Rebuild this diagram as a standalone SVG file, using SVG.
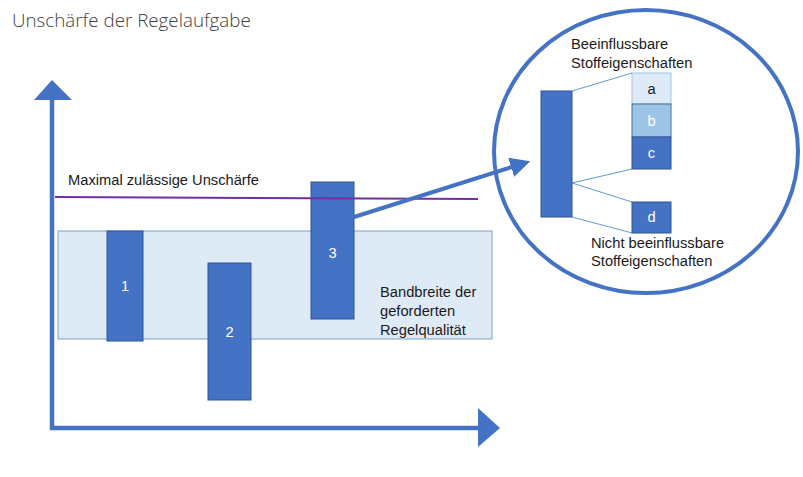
<svg xmlns="http://www.w3.org/2000/svg" width="803" height="477" viewBox="0 0 803 477">
<defs>
<style>
.t{font-family:"Liberation Sans",Arial,sans-serif;font-size:14.7px;fill:#1a1a1a}
.w{font-family:"Liberation Sans",Arial,sans-serif;font-size:14.7px;fill:#ffffff;text-anchor:middle}
.bar{fill:#4472C4;stroke:#2F5597;stroke-width:1}
.thin{stroke:#5B9BD5;stroke-width:1;fill:none}
</style>
<marker id="ah" markerWidth="5" markerHeight="5" refX="1" refY="2.5" orient="auto" markerUnits="strokeWidth">
<path d="M0,0 L5,2.5 L0,5 Z" fill="#4472C4"/>
</marker>
</defs>
<rect width="803" height="477" fill="#ffffff"/>
<text x="12" y="27" style="font-family:'Open Sans',sans-serif;font-weight:300;font-size:18.8px;fill:#404040">Unschärfe der Regelaufgabe</text>

<g id="band">
<rect x="58" y="231" width="434" height="108" fill="#DEEBF7" stroke="#7F9FC6" stroke-width="1"/>
<text class="t" x="380" y="297">Bandbreite der</text>
<text class="t" x="380" y="316">geforderten</text>
<text class="t" x="380" y="335">Regelqualität</text>
</g>

<g id="bar1"><rect class="bar" x="107" y="231" width="36" height="110"/><text class="w" x="125" y="291">1</text></g>
<g id="bar2"><rect class="bar" x="208" y="263" width="43" height="137"/><text class="w" x="229.5" y="337">2</text></g>
<g id="bar3"><rect class="bar" x="311" y="182" width="43" height="137"/><text class="w" x="332.5" y="258">3</text></g>

<g id="limit">
<line x1="55" y1="197" x2="478" y2="199" stroke="#7030A0" stroke-width="2"/>
<text class="t" x="68" y="185">Maximal zulässige Unschärfe</text>
</g>

<g id="axes">
<line x1="52" y1="98" x2="52" y2="430" stroke="#4472C4" stroke-width="4.5"/>
<polygon points="34,100 52,80 72,100" fill="#4472C4"/>
<line x1="50" y1="428" x2="480" y2="428" stroke="#4472C4" stroke-width="4.5"/>
<polygon points="478,408 500,428 478,447" fill="#4472C4"/>
</g>

<g id="connectors">
<line x1="354" y1="217" x2="515" y2="166" stroke="#4472C4" stroke-width="4" marker-end="url(#ah)"/>
<line class="thin" x1="572" y1="91" x2="632" y2="73"/>
<line class="thin" x1="572" y1="183" x2="632" y2="169"/>
<line class="thin" x1="572" y1="183" x2="632" y2="202"/>
<line class="thin" x1="572" y1="217" x2="632" y2="233"/>
</g>

<g id="zoom">
<ellipse cx="646" cy="151.5" rx="152" ry="141.5" fill="none" stroke="#4472C4" stroke-width="4"/>
<rect class="bar" x="541" y="91" width="31" height="126"/>
<text class="t" x="571" y="49">Beeinflussbare</text>
<text class="t" x="571" y="68">Stoffeigenschaften</text>
<text class="t" x="591" y="248">Nicht beeinflussbare</text>
<text class="t" x="591" y="266">Stoffeigenschaften</text>
</g>

<g id="a"><rect x="632" y="73" width="39" height="31" fill="#DEEBF7" stroke="#9DC3E6" stroke-width="1"/><text class="t" x="651.5" y="94" text-anchor="middle">a</text></g>
<g id="b"><rect x="632" y="104" width="39" height="33" fill="#9DC3E6" stroke="#41719C" stroke-width="1"/><text class="w" x="651.5" y="126">b</text></g>
<g id="c"><rect class="bar" x="632" y="137" width="39" height="32"/><text class="w" x="651.5" y="158">c</text></g>
<g id="d"><rect class="bar" x="632" y="202" width="39" height="31"/><text class="w" x="651.5" y="222">d</text></g>
</svg>
